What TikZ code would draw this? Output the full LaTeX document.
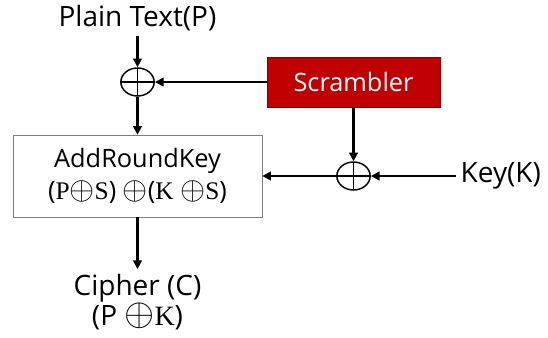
\documentclass[tikz,border=0pt]{standalone}
\usepackage{fontspec}
\setmainfont{Open Sans}
\newfontfamily\serif{Liberation Serif}
\usetikzlibrary{arrows.meta,positioning,shapes.geometric}
\definecolor{scrred}{HTML}{C00000}
\definecolor{frame}{HTML}{7F7F7F}
\newcommand{\mv}[1]{{\serif #1}}
\newcommand{\xo}{\smash{\scalebox{1.4}{$\oplus$}}}

\begin{document}
\begin{tikzpicture}[x=0.75pt, y=-0.75pt,
  txt/.style={font=\fontsize{21}{23}\selectfont, align=center},
  block/.style={draw=frame, fill=white, minimum width=186.75pt, minimum height=61.5pt, align=center, font=\fontsize{19}{24}\selectfont},
  scram/.style={draw=scrred!70!black, fill=scrred, text=white, minimum width=129.75pt, minimum height=37.5pt, font=\fontsize{19}{22}\selectfont},
  xor/.style={ellipse, draw, line width=1.1pt, minimum width=25pt, minimum height=21pt, inner sep=0pt,
    path picture={\draw[line width=1.1pt] (path picture bounding box.north) -- (path picture bounding box.south)
      (path picture bounding box.west) -- (path picture bounding box.east);}},
  flow/.style={-{Triangle[length=6.5pt, width=6.5pt]}, line width=1.6pt}
]
\useasboundingbox (0,0) rectangle (548,338);
\node[txt] (plain) at (137.5,18) {Plain Text(P)};
\node[xor] (xor1) at (137.5,82) {};
\node[scram] (scr) at (353.5,82) {Scrambler};
\node[block] (ark) at (137.5,176) {AddRoundKey\\(\mv{P}\xo\mv{S}) \xo(\mv{K} \xo\mv{S})};
\node[xor] (xor2) at (353.5,176) {};
\node[txt, anchor=west] (key) at (456,176) {Key(K)};
\node[txt] (cipher) at (137.5,302) {Cipher (C)\\(P \xo\mv{K})};
\draw[flow] (plain) -- (xor1);
\draw[flow] (scr) -- (xor1);
\draw[flow] (xor1) -- (ark);
\draw[flow] (scr) -- (xor2);
\draw[flow] (key) -- (xor2);
\draw[flow] (xor2) -- (ark);
\draw[flow] (ark) -- (cipher);
\end{tikzpicture}
\end{document}
